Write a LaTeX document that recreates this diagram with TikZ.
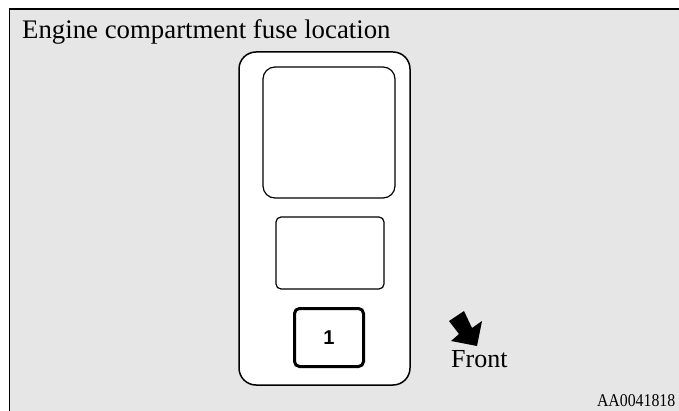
\documentclass[tikz,border=0pt]{standalone}
\usepackage{fontspec}
\setmainfont{Liberation Serif}
\newfontfamily\labelsans{Liberation Sans}
\definecolor{panelgray}{RGB}{230,230,230}
\begin{document}
\begin{tikzpicture}[x=1pt,y=-1pt,
  box/.style={draw=black,fill=white,line width=1.2pt},
  fusebox/.style={draw=black,fill=white,line width=3pt,rounded corners=5pt},
  frameline/.style={draw=black,line width=1.8pt}]
\useasboundingbox (0,0) rectangle (679,411);
\fill[white] (0,0) rectangle (679,411);
\fill[panelgray] (9,9) rectangle (679,411);
\draw[frameline] (9.5,411) -- (9.5,9) -- (679,9);
% title
\node[anchor=base west,inner sep=0pt,font=\fontsize{26.8}{30}\selectfont] (title) at (22,39) {Engine compartment fuse location};
% fuse box
\draw[box,line width=1.5pt,rounded corners=17pt] (239,52) rectangle (410,385);
\draw[box,rounded corners=12pt] (263,67) rectangle (395,198);
\draw[box,rounded corners=5pt] (276,217) rectangle (384,289);
\node[fusebox,minimum width=69pt,minimum height=58pt,inner sep=0pt,
  font=\labelsans\fontsize{20}{22}\selectfont\bfseries] (fuse1) at (329,337.5) {1};
% arrow
\fill[black] (449,321) -- (464,311) -- (472,328) -- (482,321) -- (477,346)
  -- (451,341) -- (459,334) -- cycle;
\node[anchor=base west,inner sep=0pt,font=\fontsize{26}{30}\selectfont] (front) at (451,367) {Front};
\node[anchor=base east,inner sep=0pt,font=\fontsize{18}{20}\selectfont,xscale=0.88] (code) at (675.5,406.5) {AA0041818};
\end{tikzpicture}
\end{document}
